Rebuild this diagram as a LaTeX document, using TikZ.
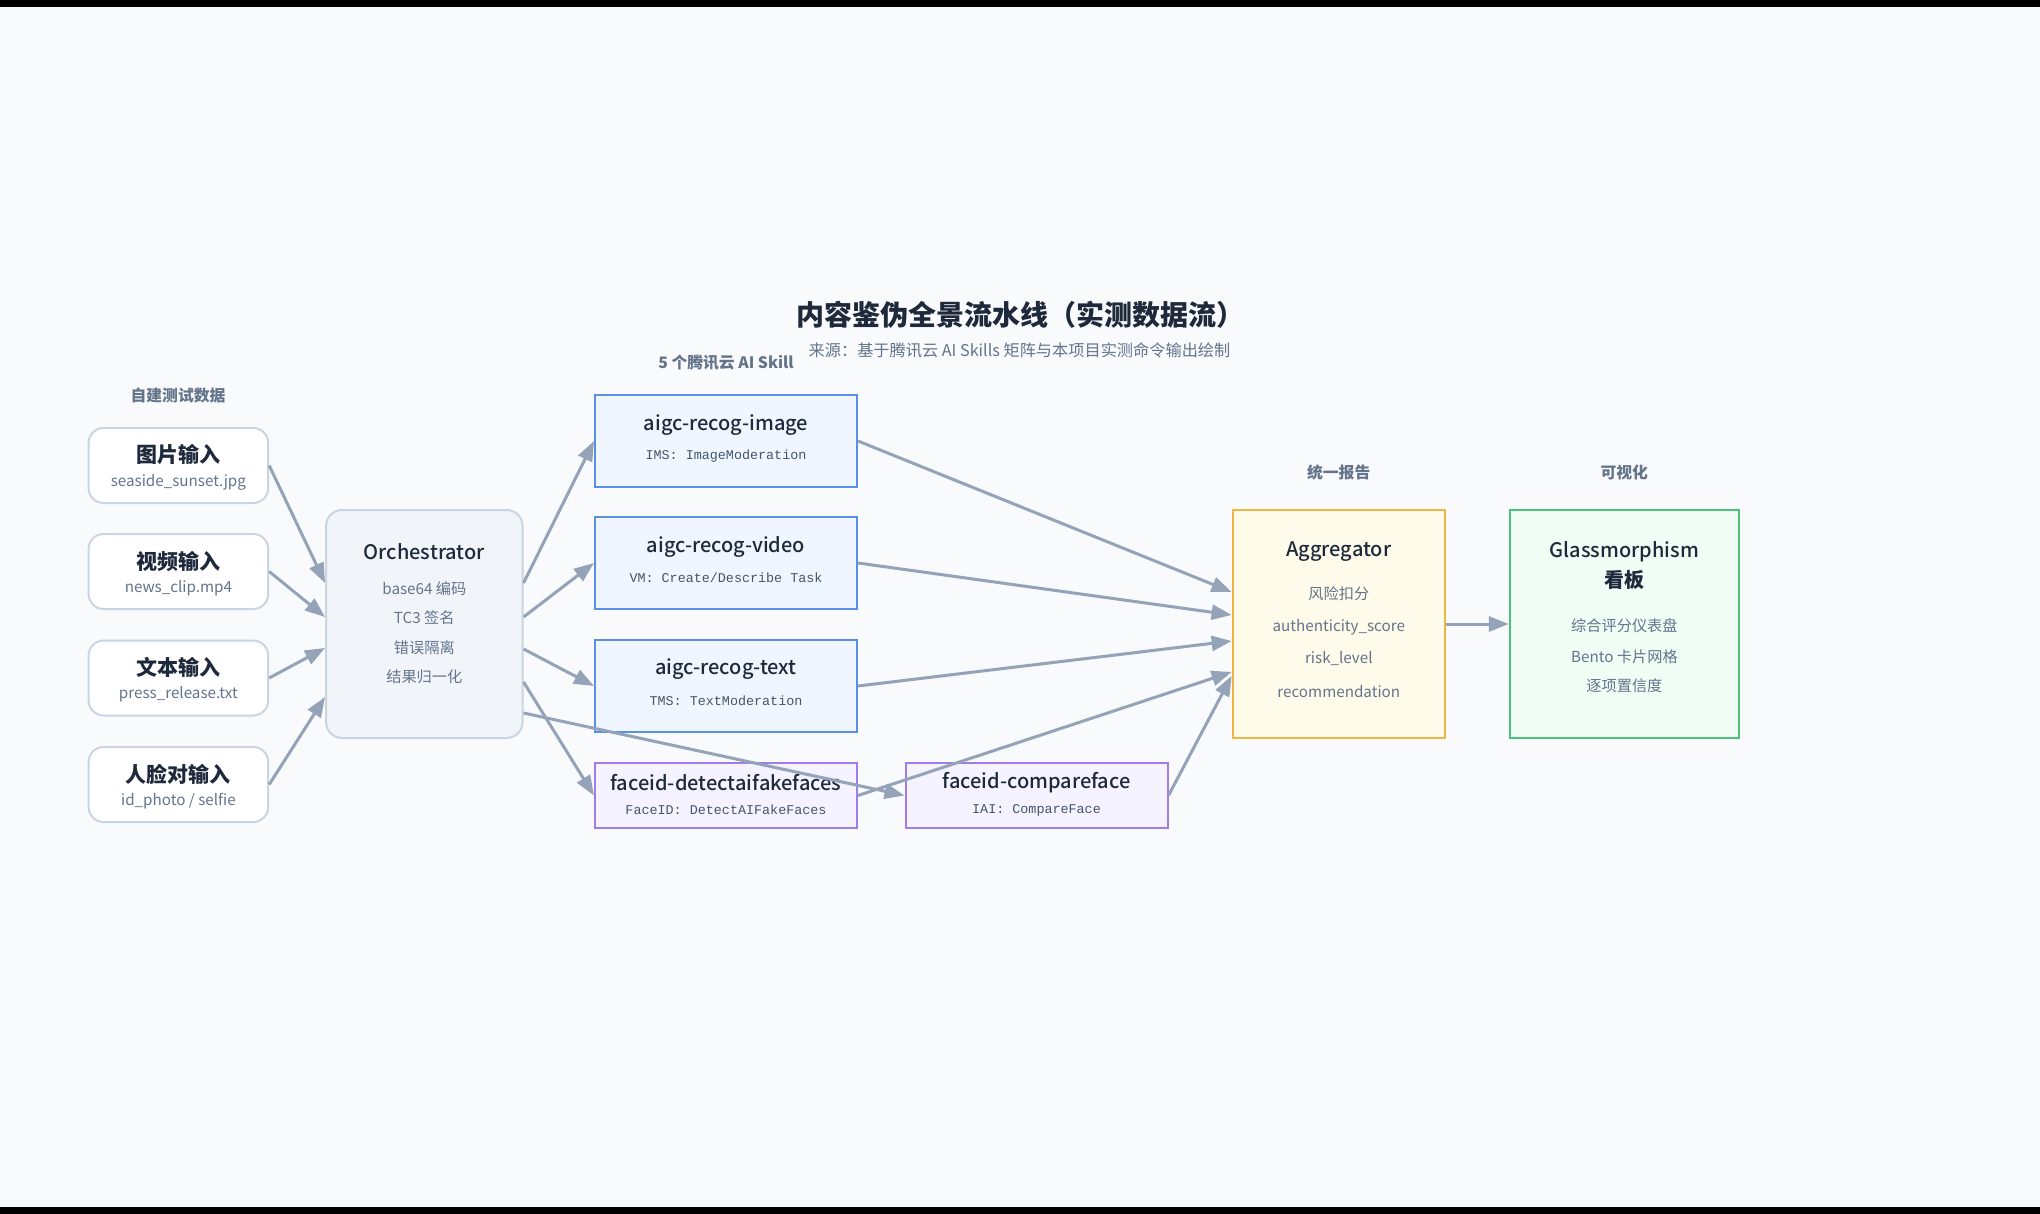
\documentclass[tikz,border=0pt]{standalone}
\usepackage{fontspec}
\setmainfont{Noto Sans CJK SC}
\newfontfamily\medfont{Noto Sans CJK SC Medium}
\newfontfamily\codefont{Liberation Mono}
\usetikzlibrary{calc,arrows.meta}

\definecolor{bgc}{HTML}{F8FAFC}
\definecolor{ink}{HTML}{1E293B}
\definecolor{muted}{HTML}{64748B}
\definecolor{codec}{HTML}{475569}
\definecolor{edgec}{HTML}{94A3B8}
\definecolor{greyln}{HTML}{CBD5E1}
\definecolor{orchfill}{HTML}{F1F5F9}
\definecolor{blueln}{HTML}{5A8FE6}
\definecolor{bluefill}{HTML}{EFF6FF}
\definecolor{violetln}{HTML}{A07DEA}
\definecolor{violetfill}{HTML}{F5F3FF}
\definecolor{amberln}{HTML}{F2B544}
\definecolor{amberfill}{HTML}{FFFBEB}
\definecolor{greenln}{HTML}{4CC27A}
\definecolor{greenfill}{HTML}{F0FDF4}

\begin{document}
\begin{tikzpicture}[x=0.5pt,y=-0.5pt,
    inbox/.style={draw=greyln,fill=white,line width=1pt,rounded corners=7.5pt,
        minimum width=89.8pt,minimum height=37.5pt,inner sep=0pt},
    orchbox/.style={draw=greyln,fill=orchfill,line width=1pt,rounded corners=8pt,
        minimum width=98.25pt,minimum height=114pt,inner sep=0pt},
    skillbox/.style={draw=blueln,fill=bluefill,line width=1pt,
        minimum width=131pt,minimum height=46pt,inner sep=0pt},
    facebox/.style={draw=violetln,fill=violetfill,line width=1pt,
        minimum width=131pt,minimum height=32.5pt,inner sep=0pt},
    aggbox/.style={draw=amberln,fill=amberfill,line width=1pt,
        minimum width=106.2pt,minimum height=114pt,inner sep=0pt},
    glassbox/.style={draw=greenln,fill=greenfill,line width=1pt,
        minimum width=114.6pt,minimum height=114pt,inner sep=0pt},
    intitle/.style={inner sep=0pt,text=ink,font=\fontsize{10.5pt}{12pt}\selectfont\bfseries},
    boxtitle/.style={inner sep=0pt,text=ink,font=\fontsize{10pt}{12pt}\selectfont\medfont},
    sub/.style={inner sep=0pt,text=muted,font=\fontsize{7.6pt}{9pt}\selectfont},
    code/.style={inner sep=0pt,text=codec,font=\fontsize{6.7pt}{8pt}\selectfont\codefont},
    colhead/.style={inner sep=0pt,text=muted,font=\fontsize{7.9pt}{9pt}\selectfont\bfseries},
    arr/.style={draw=edgec,line width=1.5pt,-{Triangle[length=10pt,width=7.5pt]}}]

    % background and bars
    \fill[bgc] (0,0) rectangle (2040,1214);
    \fill[black] (0,0) rectangle (2040,7);
    \fill[black] (0,1207) rectangle (2040,1214);
    \useasboundingbox (0,0) rectangle (2040,1214);

    % title
    \node[inner sep=0pt,text=ink,font=\fontsize{14pt}{16pt}\selectfont\bfseries] (title) at (1020,315) {内容鉴伪全景流水线（实测数据流）};
    \node[inner sep=0pt,text=muted,font=\fontsize{8.1pt}{9pt}\selectfont] (source) at (1019.5,350) {来源：基于腾讯云 AI Skills 矩阵与本项目实测命令输出绘制};

    % column heads
    \node[colhead] (h1) at (178,396) {自建测试数据};
    \node[colhead] (h2) at (726,363) {5 个腾讯云 AI Skill};
    \node[colhead] (h3) at (1338.7,472) {统一报告};
    \node[colhead] (h4) at (1624.3,472) {可视化};

    % inputs
    \node[inbox] (in1) at (178.4,465.5) {};
    \node[intitle] (in1t) at (178.4,455) {图片输入};
    \node[sub] (in1s) at (178.4,482) {seaside\_sunset.jpg};

    \node[inbox] (in2) at (178.4,571.5) {};
    \node[intitle] (in2t) at (178.4,561) {视频输入};
    \node[sub] (in2s) at (178.4,588) {news\_clip.mp4};

    \node[inbox] (in3) at (178.4,678) {};
    \node[intitle] (in3t) at (178.4,667.5) {文本输入};
    \node[sub] (in3s) at (178.4,694.5) {press\_release.txt};

    \node[inbox] (in4) at (178.4,784.5) {};
    \node[intitle] (in4t) at (178.4,774) {人脸对输入};
    \node[sub] (in4s) at (178.4,801) {id\_photo / selfie};

    % orchestrator
    \node[orchbox] (orch) at (424.3,624) {};
    \node[boxtitle] (orcht) at (424.3,552) {Orchestrator};
    \node[sub] at (424.3,589) {base64 编码};
    \node[sub] at (424.3,618) {TC3 签名};
    \node[sub] at (424.3,648) {错误隔离};
    \node[sub] at (424.3,677) {结果归一化};

    % skills
    \node[skillbox] (img) at (726,441) {};
    \node[boxtitle] at (726,425) {aigc-recog-image};
    \node[code] at (726,456) {IMS: ImageModeration};

    \node[skillbox] (vid) at (726,563) {};
    \node[boxtitle] at (726,547) {aigc-recog-video};
    \node[code] at (726,578) {VM: Create/Describe Task};

    \node[skillbox] (txt) at (726,686) {};
    \node[boxtitle] at (726,669) {aigc-recog-text};
    \node[code] at (726,701) {TMS: TextModeration};

    \node[facebox] (det) at (726,795.5) {};
    \node[boxtitle] at (726,783) {faceid-detectaifakefaces};
    \node[code] at (726,810) {FaceID: DetectAIFakeFaces};

    \node[facebox] (cmp) at (1036.5,795.5) {};
    \node[boxtitle] at (1036.5,783) {faceid-compareface};
    \node[code] at (1036.5,810) {IAI: CompareFace};

    % report
    \node[aggbox] (agg) at (1338.8,624) {};
    \node[boxtitle] at (1338.8,552) {Aggregator};
    \node[sub] at (1338.8,594) {风险扣分};
    \node[sub] at (1338.8,627) {authenticity\_score};
    \node[sub] at (1338.8,659) {risk\_level};
    \node[sub] at (1338.8,692) {recommendation};

    % dashboard
    \node[glassbox] (glass) at (1624.4,624) {};
    \node[boxtitle] at (1624.4,552) {Glassmorphism};
    \node[boxtitle] at (1624.4,580) {\bfseries 看板};
    \node[sub] at (1624.4,626) {综合评分仪表盘};
    \node[sub] at (1624.4,657) {Bento 卡片网格};
    \node[sub] at (1624.4,686) {逐项置信度};

    % inputs -> orchestrator
    \path (in1.east) edge[arr] ([yshift=20.5pt]orch.west);
    \path (in2.east) edge[arr] ([yshift=3.5pt]orch.west);
    \path (in3.east) edge[arr] ([yshift=-12pt]orch.west);
    \path (in4.east) edge[arr] ([yshift=-36.5pt]orch.west);

    % orchestrator -> skills
    \path ([yshift=20.5pt]orch.east) edge[arr] (img.west);
    \path ([yshift=3.5pt]orch.east) edge[arr] (vid.west);
    \path ([yshift=-12.5pt]orch.east) edge[arr] (txt.west);
    \path ([yshift=-29pt]orch.east) edge[arr] (det.west);
    \path ([yshift=-44.5pt]orch.east) edge[arr] (cmp.west);

    % skills -> aggregator
    \path (img.east) edge[arr] ([yshift=16pt]agg.west);
    \path (vid.east) edge[arr] ([yshift=4.5pt]agg.west);
    \path (txt.east) edge[arr] ([yshift=-8.5pt]agg.west);
    \path (det.east) edge[arr] ([yshift=-24pt]agg.west);
    \path (cmp.east) edge[arr] ([yshift=-26pt]agg.west);

    % aggregator -> dashboard
    \path (agg.east) edge[arr] (glass.west);

\end{tikzpicture}
\end{document}
